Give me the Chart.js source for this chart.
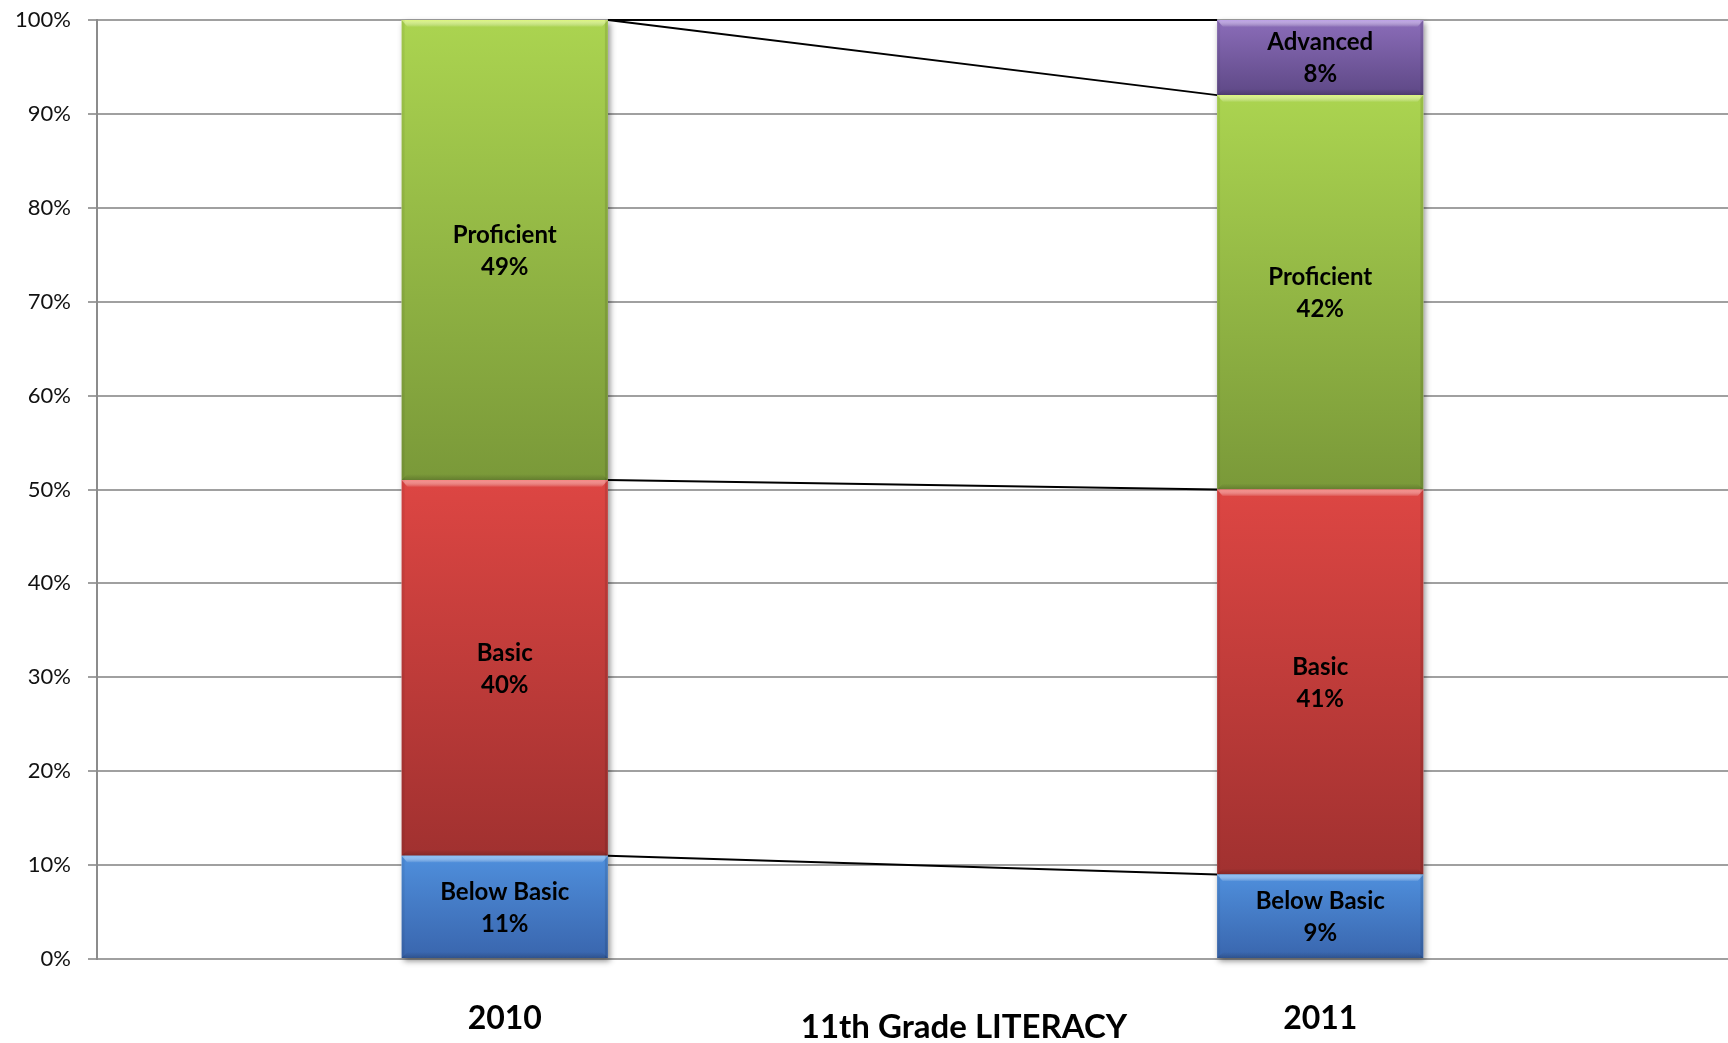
<!DOCTYPE html>
<html>
<head>
<meta charset="utf-8">
<script src="https://cdn.jsdelivr.net/npm/chart.js@4.4.1/dist/chart.umd.min.js"></script>
<style>
  html, body { margin: 0; padding: 0; background: #ffffff; }
  #wrap { width: 1728px; height: 1043px; position: relative; }
</style>
</head>
<body>
<div id="wrap"><canvas id="c" width="1728" height="1043"></canvas></div>
<script>
// ---- data ----
const categories = ['2010', '2011'];
const seriesNames = ['Below Basic', 'Basic', 'Proficient', 'Advanced'];
const belowBasic = [11, 9];
const basic = [40, 41];
const proficient = [49, 42];
const advanced = [0, 8];
const yTicks = [0, 10, 20, 30, 40, 50, 60, 70, 80, 90, 100];
const axisTitle = '11th Grade LITERACY';

const seriesValues = [belowBasic, basic, proficient, advanced];
// colour styles: [top, bottom, highlight]
const palette = [
  ['#4f8fdc', '#3965ad', '#86bdf6'],
  ['#dd4643', '#a13130', '#f58784'],
  ['#abd450', '#7a9939', '#dcf57e'],
  ['#8b6db9', '#5e4886', '#bca0e6']
];

const FONT = 'Lato, "Open Sans", "DejaVu Sans", sans-serif';

function gradientFor(ctx) {
  const chart = ctx.chart;
  const ds = ctx.datasetIndex;
  const i = ctx.dataIndex;
  const col = palette[ds];
  const y = chart.scales && chart.scales.y;
  if (!chart.chartArea || !y || ctx.type !== 'data') return col[0];
  let base = 0;
  for (let k = 0; k < ds; k++) base += seriesValues[k][i];
  const top = base + seriesValues[ds][i];
  const py0 = y.getPixelForValue(top);
  const py1 = y.getPixelForValue(base);
  if (!isFinite(py0) || !isFinite(py1) || py0 === py1) return col[0];
  const g = chart.ctx.createLinearGradient(0, py0, 0, py1);
  g.addColorStop(0, col[0]);
  g.addColorStop(1, col[1]);
  return g;
}

const datasets = seriesNames.map((name, k) => ({
  label: name,
  data: seriesValues[k],
  backgroundColor: gradientFor,
  borderWidth: 0,
  barPercentage: 0.253,
  categoryPercentage: 1.0
}));

const preDraw = {
  id: 'preDraw',
  beforeDatasetsDraw(chart) {
    const ctx = chart.ctx;
    const metas = chart.data.datasets.map((d, k) => chart.getDatasetMeta(k));
    for (let i = 0; i < categories.length; i++) {
      let top = Infinity, bottom = -Infinity, x = 0, w = 0;
      metas.forEach(m => {
        const el = m.data[i];
        const p = el.getProps(['x', 'y', 'base', 'width'], true);
        top = Math.min(top, p.y, p.base);
        bottom = Math.max(bottom, p.y, p.base);
        x = p.x; w = p.width;
      });
      ctx.save();
      ctx.shadowColor = 'rgba(0,0,0,0.45)';
      ctx.shadowBlur = 6;
      ctx.shadowOffsetX = 2;
      ctx.shadowOffsetY = 3;
      ctx.fillStyle = '#ffffff';
      ctx.fillRect(x - w / 2, top, w, bottom - top);
      ctx.restore();
    }
    ctx.save();
    ctx.strokeStyle = '#000000';
    ctx.lineWidth = 2;
    metas.forEach(m => {
      for (let i = 0; i < categories.length - 1; i++) {
        const a = m.data[i].getProps(['x', 'y', 'width'], true);
        const b = m.data[i + 1].getProps(['x', 'y', 'width'], true);
        ctx.beginPath();
        ctx.moveTo(a.x + a.width / 2, a.y);
        ctx.lineTo(b.x - b.width / 2, b.y);
        ctx.stroke();
      }
    });
    ctx.restore();
  }
};

const postDraw = {
  id: 'postDraw',
  afterDatasetsDraw(chart) {
    const ctx = chart.ctx;
    chart.data.datasets.forEach((d, k) => {
      const m = chart.getDatasetMeta(k);
      m.data.forEach((el, i) => {
        const v = d.data[i];
        if (!v) return;
        const p = el.getProps(['x', 'y', 'base', 'width'], true);
        const left = p.x - p.width / 2, right = p.x + p.width / 2;
        const top = Math.min(p.y, p.base), bottom = Math.max(p.y, p.base);
        ctx.save();
        const hg = ctx.createLinearGradient(0, top, 0, top + 7);
        hg.addColorStop(0, palette[k][2]);
        hg.addColorStop(1, 'rgba(255,255,255,0)');
        ctx.fillStyle = hg;
        ctx.beginPath();
        ctx.moveTo(left, top);
        ctx.lineTo(right, top);
        ctx.lineTo(right - 6, top + 7);
        ctx.lineTo(left + 6, top + 7);
        ctx.closePath();
        ctx.fill();
        const bg = ctx.createLinearGradient(0, bottom - 6, 0, bottom);
        bg.addColorStop(0, 'rgba(0,0,0,0)');
        bg.addColorStop(1, 'rgba(0,0,0,0.18)');
        ctx.fillStyle = bg;
        ctx.beginPath();
        ctx.moveTo(left + 6, bottom - 6);
        ctx.lineTo(right - 6, bottom - 6);
        ctx.lineTo(right, bottom);
        ctx.lineTo(left, bottom);
        ctx.closePath();
        ctx.fill();
        ctx.fillStyle = 'rgba(0,0,0,0.10)';
        ctx.fillRect(right - 3, top, 3, bottom - top);
        ctx.fillStyle = 'rgba(0,0,0,0.06)';
        ctx.fillRect(left, top, 3, bottom - top);
        const cy = (top + bottom) / 2;
        ctx.fillStyle = '#000000';
        ctx.font = 'bold 24px ' + FONT;
        ctx.textAlign = 'center';
        ctx.textBaseline = 'middle';
        ctx.fillText(seriesNames[k], p.x, cy - 15);
        ctx.fillText(v + '%', p.x, cy + 17);
        ctx.restore();
      });
    });
  },
  afterDraw(chart) {
    const ctx = chart.ctx;
    ctx.save();
    ctx.fillStyle = '#000000';
    ctx.font = 'bold 33px ' + FONT;
    ctx.textAlign = 'center';
    ctx.textBaseline = 'middle';
    ctx.fillText(axisTitle, 964, 1027);
    ctx.restore();
  }
};

new Chart(document.getElementById('c'), {
  type: 'bar',
  data: { labels: categories, datasets },
  options: {
    responsive: false,
    animation: false,
    maintainAspectRatio: false,
    layout: { padding: { top: 20, right: 0, left: 0, bottom: 0 } },
    plugins: {
      legend: { display: false },
      tooltip: { enabled: false },
      title: { display: false }
    },
    scales: {
      x: {
        stacked: true,
        grid: { display: false, drawTicks: false },
        border: { display: false },
        ticks: {
          color: '#000000',
          padding: 40,
          font: { family: FONT, size: 32, weight: 'bold' }
        },
        afterFit(s) { s.height = 84; s.paddingLeft = 0; s.paddingRight = 0; }
      },
      y: {
        stacked: true,
        min: 0,
        max: 100,
        afterBuildTicks(s) { s.ticks = yTicks.map(v => ({ value: v })); },
        grid: { color: '#a0a0a0', lineWidth: 2, tickLength: 9, tickColor: '#a0a0a0' },
        border: { display: true, color: '#8c8c8c', width: 2 },
        ticks: {
          color: '#111111',
          padding: 17,
          font: { family: FONT, size: 22 },
          callback: v => v + '%'
        },
        afterFit(s) { s.width = 97; s.paddingTop = 0; s.paddingBottom = 0; }
      }
    }
  },
  plugins: [preDraw, postDraw]
});
</script>
</body>
</html>
